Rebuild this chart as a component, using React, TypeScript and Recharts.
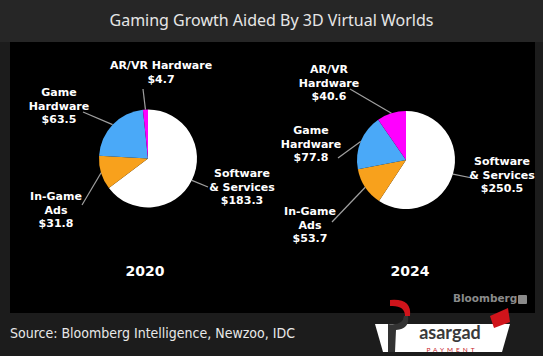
import React from 'react';
import { PieChart, Pie, Cell } from 'recharts';

const categories = ['Software & Services', 'In-Game Ads', 'Game Hardware', 'AR/VR Hardware'];
const values2020 = [183.3, 31.8, 63.5, 4.7];
const values2024 = [250.5, 53.7, 77.8, 40.6];
const years = ['2020', '2024'];
const labelLines2020 = [['Software', '& Services'], ['In-Game', 'Ads'], ['Game', 'Hardware'], ['AR/VR Hardware']];
const labelLines2024 = [['Software', '& Services'], ['In-Game', 'Ads'], ['Game', 'Hardware'], ['AR/VR', 'Hardware']];
const colors = ['#ffffff', '#f8a11c', '#4aa9f8', '#ff00ff'];

const data2020 = categories.map((name, i) => ({ name, value: values2020[i] }));
const data2024 = categories.map((name, i) => ({ name, value: values2024[i] }));

// label layout (line elbow and text position relative to pie center)
const layout2020 = [
  { ex: 60, ey: 28.5, tx: 94, ty: 14.5 },
  { ex: -66, ey: 46.5, tx: -92, ty: 37.5 },
  { ex: -65, ey: -46.5, tx: -89, ty: -66.5 },
  { ex: -5, ey: -69.5, tx: 13, ty: -93.5 },
];
const layout2024 = [
  { ex: 66, ey: 18, tx: 96, ty: 1 },
  { ex: -74, ey: 62, tx: -96, ty: 51 },
  { ex: -68, ey: -2, tx: -95, ty: -30 },
  { ex: -56, ey: -71, tx: -77, ty: -91 },
];

const RAD = Math.PI / 180;
const LABEL_FONT = '"DejaVu Sans", Verdana, sans-serif';

function makeLabel(layout: any[], lines: string[][]) {
  return (props: any) => {
    const { cx, cy, midAngle, outerRadius, index, value } = props;
    const sx = cx + outerRadius * Math.cos(-midAngle * RAD);
    const sy = cy + outerRadius * Math.sin(-midAngle * RAD);
    const l = layout[index];
    const rows = [...lines[index], `$${Number(value).toFixed(1)}`];
    return (
      <g key={`lbl-${index}`}>
        <polyline points={`${sx},${sy} ${cx + l.ex},${cy + l.ey}`} stroke="#a0a0a0" strokeWidth={1.2} fill="none" />
        <text
          x={cx + l.tx}
          y={cy + l.ty}
          textAnchor="middle"
          fill="#ffffff"
          fontFamily={LABEL_FONT}
          fontWeight="bold"
          fontSize={11}
        >
          {rows.map((r, i) => (
            <tspan key={i} x={cx + l.tx} y={cy + l.ty + 4 + i * 13.5}>
              {r}
            </tspan>
          ))}
        </text>
      </g>
    );
  };
}

export default function App() {
  return (
    <div style={{ position: 'absolute', left: 0, top: 0, width: 543, height: 356, background: '#1c1c1c', overflow: 'hidden' }}>
      <div
        style={{
          position: 'absolute', left: 0, top: 0, width: 543, height: 42, background: '#262626',
          color: '#e6e6e6', fontFamily: '"Noto Sans", "Open Sans", sans-serif', fontSize: 16,
          textAlign: 'center', lineHeight: '40px',
        }}
      >
        Gaming Growth Aided By 3D Virtual Worlds
      </div>
      <div style={{ position: 'absolute', left: 10, top: 42, width: 525, height: 271, background: '#000000' }} />
      <div style={{ position: 'absolute', left: 0, top: 0 }}>
        <PieChart width={543} height={356} margin={{ top: 0, right: 0, bottom: 0, left: 0 }}>
          <Pie
            data={data2020}
            dataKey="value"
            nameKey="name"
            cx={148}
            cy={158.5}
            outerRadius={49}
            startAngle={90}
            endAngle={-270}
            stroke="none"
            isAnimationActive={false}
            labelLine={false}
            label={makeLabel(layout2020, labelLines2020)}
          >
            {data2020.map((d, i) => (
              <Cell key={d.name} fill={colors[i]} />
            ))}
          </Pie>
          <Pie
            data={data2024}
            dataKey="value"
            nameKey="name"
            cx={406}
            cy={160}
            outerRadius={49}
            startAngle={90}
            endAngle={-270}
            stroke="none"
            isAnimationActive={false}
            labelLine={false}
            label={makeLabel(layout2024, labelLines2024)}
          >
            {data2024.map((d, i) => (
              <Cell key={d.name} fill={colors[i]} />
            ))}
          </Pie>
        </PieChart>
      </div>
      <div style={{ position: 'absolute', left: 145 - 40, top: 263, width: 80, textAlign: 'center', color: '#fff', fontFamily: LABEL_FONT, fontWeight: 'bold', fontSize: 14 }}>
        {years[0]}
      </div>
      <div style={{ position: 'absolute', left: 410 - 40, top: 263, width: 80, textAlign: 'center', color: '#fff', fontFamily: LABEL_FONT, fontWeight: 'bold', fontSize: 14 }}>
        {years[1]}
      </div>
      <div style={{ position: 'absolute', left: 453, top: 292, color: '#8a8a8a', fontFamily: '"DejaVu Sans", sans-serif', fontWeight: 'bold', fontSize: 10.5 }}>
        Bloomberg
      </div>
      <div style={{ position: 'absolute', left: 518, top: 295, width: 9, height: 9, background: '#8a8a8a', borderRadius: 1 }} />
      <div
        style={{
          position: 'absolute', left: 10, top: 325, color: '#e8e8e8',
          fontFamily: '"DejaVu Sans Condensed", "DejaVu Sans", sans-serif', fontSize: 14, whiteSpace: 'nowrap',
        }}
      >
        Source: Bloomberg Intelligence, Newzoo, IDC
      </div>
      <svg style={{ position: 'absolute', left: 370, top: 296 }} width={150} height={60}>
        <polygon points="5,28 140,28 132,56 13,56" fill="#ffffff" />
        <path d="M20,4 Q42,2 40,20 L35,20 Q35,9 20,10 Z" fill="#d0141b" />
        <path d="M38,20 Q40,33 26,34 L25,56 L18,56 L18,28 Q33,30 34,20 Z" fill="#333333" />
        <text x={80} y={43} textAnchor="middle" fill="#3a3a3a" fontFamily="Lato, sans-serif" fontSize={18} fontWeight="bold">asargad</text>
        <text x={82} y={56} textAnchor="middle" fill="#c8242a" fontFamily="Lato, sans-serif" fontSize={6.5} letterSpacing={3}>PAYMENT</text>
        <path d="M120,20 L138,12 L140,26 L124,32 Z" fill="#d0141b" />
      </svg>
    </div>
  );
}
